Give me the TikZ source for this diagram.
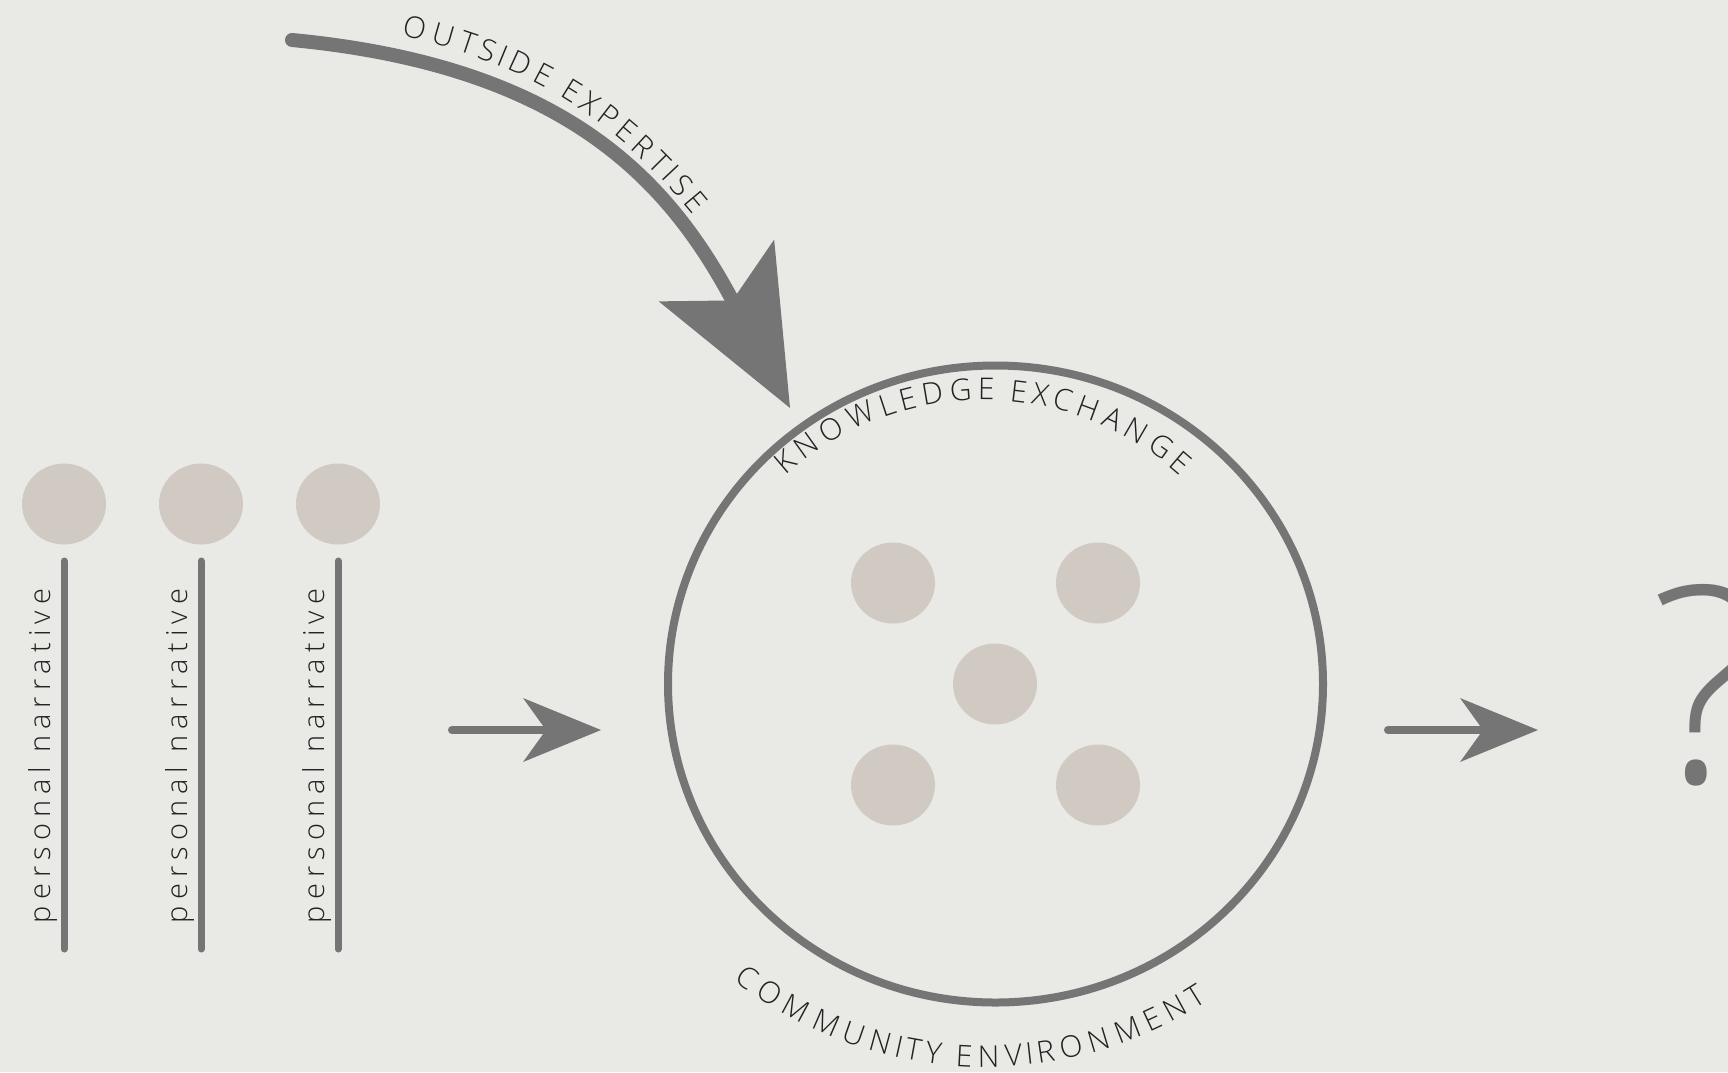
\documentclass[tikz,border=0pt]{standalone}
\usepackage{fontspec}
\setmainfont{Open Sans Light}
\newfontfamily\capsfont{Open Sans Light}
\newfontfamily\narrfont{Open Sans Light}[LetterSpace=21]
\usetikzlibrary{arrows.meta,decorations.text,shapes.geometric}
\definecolor{bg}{HTML}{E9EAE6}
\definecolor{arrowgray}{HTML}{757575}
\definecolor{dotcol}{HTML}{D0CAC3}
\definecolor{textcol}{HTML}{222222}
\begin{document}
\begin{tikzpicture}[x=1pt,y=1pt,
  dot/.style={ellipse, fill=dotcol, minimum width=84pt, minimum height=81pt, inner sep=0pt},
  stem/.style={draw=arrowgray, line width=7pt, line cap=round},
  smallarrow/.style={draw=arrowgray, line width=8pt, line cap=round,
    -{Stealth[length=78pt,width=64pt,inset=23pt,line width=0pt]}},
  bigarrow/.style={draw=arrowgray, line width=14pt, line cap=round,
    -{Stealth[length=156pt,width=131pt,inset=34pt,line width=0pt]}},
  narr/.style={rotate=90, anchor=base, text=textcol, inner sep=0pt,
    font=\narrfont\fontsize{29}{29}\selectfont},
  capsdeco/.style={decorate, decoration={text effects along path, text={#1},
    text effects/.cd, text along path, fit text to path,
    characters={font=\capsfont\fontsize{30}{30}\selectfont, text=textcol}}},
]
\fill[bg] (0,0) rectangle (1728,-1072);
\useasboundingbox (0,0) rectangle (1728,-1072);

% left: personal narratives
\foreach \i/\x in {1/64,2/201,3/338}{
  \node[dot] (p\i) at (\x,-504) {};
  \coordinate (s\i top) at (\x,-561);
  \coordinate (s\i bot) at (\x,-949);
  \draw[stem] (s\i top) -- (s\i bot);
  \node[narr] (t\i) at (\x-14,-756) {personal narrative};
}

% arrow into circle
\coordinate (a1s) at (452,-730);
\coordinate (a1e) at (601,-730);
\draw[smallarrow] (a1s) -- (a1e);

% big ring
\node[ellipse, draw=arrowgray, line width=8pt, minimum width=655pt, minimum height=637pt, inner sep=0pt] (ring) at (995.5,-684) {};

% inner dots
\node[dot] (c1) at (893,-583) {};
\node[dot] (c2) at (1098,-583) {};
\node[dot] (c3) at (995,-684) {};
\node[dot] (c4) at (893,-785) {};
\node[dot] (c5) at (1098,-785) {};

% ring texts
\path[capsdeco={KNOWLEDGE EXCHANGE}]
  (983,-695) ++(132:295) arc[start angle=132, end angle=48, radius=295];
\path[capsdeco={COMMUNITY ENVIRONMENT}]
  (985,-659) ++(232:408) arc[start angle=232, end angle=303, radius=408];

% outside expertise arrow
\coordinate (oes) at (292,-40);
\coordinate (oet) at (790,-408);
\draw[bigarrow] (oes) .. controls (565,-66) and (668,-180) .. (oet);
\path[capsdeco={OUTSIDE EXPERTISE}]
  (401.6,-35.6) .. controls (531.6,-64.6) and (615.5,-120.5) .. (693,-215);

% arrow out
\coordinate (a2s) at (1388,-730);
\coordinate (a2e) at (1538,-730);
\draw[smallarrow] (a2s) -- (a2e);

% question mark
\node[anchor=base west, inner sep=0pt, text=arrowgray, font=\fontsize{275}{275}\selectfont] (q) at (1650,-783) {?};
\end{tikzpicture}
\end{document}
